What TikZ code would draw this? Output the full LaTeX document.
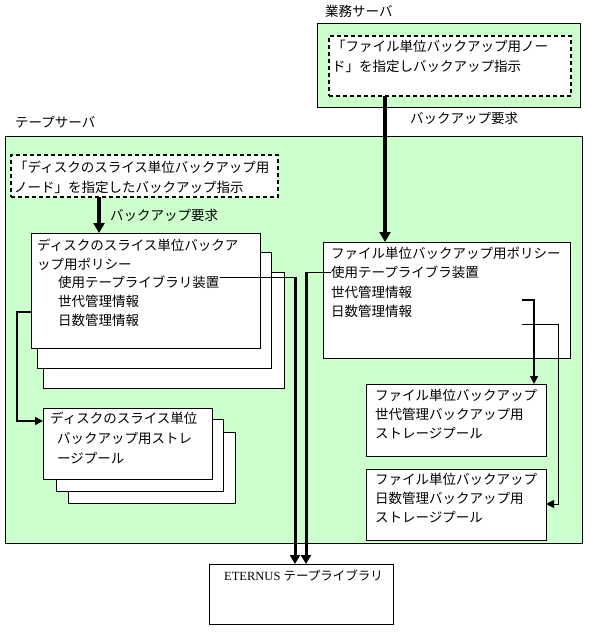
\documentclass[tikz,border=0pt]{standalone}
\usepackage{fontspec}
\setmainfont{Liberation Serif}
\newfontfamily\jpfont{Noto Sans CJK JP}
\usetikzlibrary{arrows.meta,fit}
\definecolor{srvgreen}{HTML}{CCFFCC}
\begin{document}
\begin{tikzpicture}[x=1pt,y=-1pt,
  frame/.style={draw,line width=1pt,inner sep=0pt,outer sep=0pt},
  wbox/.style={frame,fill=white},
  gbox/.style={frame,fill=srvgreen},
  dbox/.style={draw,line width=2pt,dash pattern=on 4pt off 3pt,fill=white,inner sep=0pt,outer sep=0pt},
  txt/.style={anchor=west,inner sep=0pt,font=\jpfont\fontsize{13.5}{16}\selectfont},
  bigarrow/.style={line width=4pt,-{Triangle[length=10pt,width=11pt]}},
  midarrow/.style={line width=3pt,-{Triangle[length=9pt,width=10pt]}},
  smallarrow/.style={line width=1.5pt,-{Triangle[length=8pt,width=8pt]}},
  thinarrow/.style={line width=1pt,-{Triangle[length=8pt,width=8pt]}},
  thinline/.style={line width=1pt}]
\useasboundingbox (0,0) rectangle (590,639);

% servers
\node[gbox,fit={(5,137) (582,543)}] (tape) {};
\node[gbox,fit={(317,24) (580,108)}] (biz) {};
\node[dbox,fit={(329,36) (571,96)}] (bizcmd) {};
\node[dbox,fit={(11,155) (278,197)}] (diskcmd) {};

\node[txt] (lbiz) at (325,11) {業務サーバ};
\node[txt] (ltape) at (15,122) {テープサーバ};
\node[txt] (lreq1) at (410,118) {バックアップ要求};
\node[txt] (lreq2) at (110,215) {バックアップ要求};

\node[txt] (bc1) at (332,46) {「ファイル単位バックアップ用ノー};
\node[txt] (bc2) at (332,66) {ド」を指定しバックアップ指示};
\node[txt] (dc1) at (14,167) {「ディスクのスライス単位バックアップ用};
\node[txt] (dc2) at (14,187) {ノード」を指定したバックアップ指示};

% disk policy stack
\node[wbox,fit={(43,272) (284,388)}] (dp3) {};
\node[wbox,fit={(37,252) (271,368)}] (dp2) {};
\node[wbox,fit={(31,233) (260,348)}] (dp1) {};
\node[txt] (dp1a) at (37,245) {ディスクのスライス単位バックア};
\node[txt] (dp1b) at (37,264) {ップ用ポリシー};
\node[txt] (dp1c) at (58,282) {使用テープライブラリ装置};
\node[txt] (dp1d) at (58,301) {世代管理情報};
\node[txt] (dp1e) at (58,320) {日数管理情報};

% file policy
\node[wbox,fit={(323,242) (570,358)}] (fp) {};
\node[txt] (fpa) at (331,253) {ファイル単位バックアップ用ポリシー};
\node[txt] (fpb) at (331,272) {使用テープライブラ装置};
\node[txt] (fpc) at (331,292) {世代管理情報};
\node[txt] (fpd) at (331,311) {日数管理情報};

% file pools
\node[wbox,fit={(366,384) (546,456)}] (gp) {};
\node[txt] (gpa) at (375,395) {ファイル単位バックアップ};
\node[txt] (gpb) at (375,414) {世代管理バックアップ用};
\node[txt] (gpc) at (375,433) {ストレージプール};
\node[wbox,fit={(366,469) (546,540)}] (np) {};
\node[txt] (npa) at (375,479) {ファイル単位バックアップ};
\node[txt] (npb) at (375,498) {日数管理バックアップ用};
\node[txt] (npc) at (375,517) {ストレージプール};

% disk pool stack
\node[wbox,fit={(68,432) (235,503)}] (sp3) {};
\node[wbox,fit={(56,419) (223,491)}] (sp2) {};
\node[wbox,fit={(43,408) (212,479)}] (sp1) {};
\node[txt] (spa) at (50,418) {ディスクのスライス単位};
\node[txt] (spb) at (57,438) {バックアップ用ストレ};
\node[txt] (spc) at (57,458) {ージプール};

% ETERNUS
\node[wbox,fit={(209,564) (393,624)}] (lib) {};
\node[anchor=west,inner sep=0pt,font=\fontsize{12.5}{15}\selectfont] (libt) at (224,575) {ETERNUS {\jpfont テープライブラリ}};

% coordinates
\coordinate (c1) at (295,277);
\coordinate (c2) at (306,272);
\coordinate (c3) at (17,312);
\coordinate (c4) at (17,421);
\coordinate (g0) at (522,300);
\coordinate (g1) at (534,300);
\coordinate (n0) at (522,324);
\coordinate (n1) at (558,324);
\coordinate (n2) at (558,504);

% connectors
\draw[bigarrow] (bizcmd.south -| 385,0) -- (fp.north -| 385,0);
\draw[bigarrow] (diskcmd.south -| 99,0) -- (dp1.north -| 99,0);
\draw[thinline] (dp1c.east |- c1) -- (c1);
\draw[midarrow] (c1) -- (lib.north -| c1);
\draw[thinline] (fpb.west) -- (c2);
\draw[midarrow] (c2) -- (lib.north -| c2);
\draw[smallarrow] (dp1.west |- c3) -- (c3) -- (c4) -- (sp1.west |- c4);
\draw[smallarrow] (g0) -- (g1) -- (gp.north -| g1);
\draw[thinarrow] (n0) -- (n1) -- (n2) -- (np.east |- n2);
\end{tikzpicture}
\end{document}
